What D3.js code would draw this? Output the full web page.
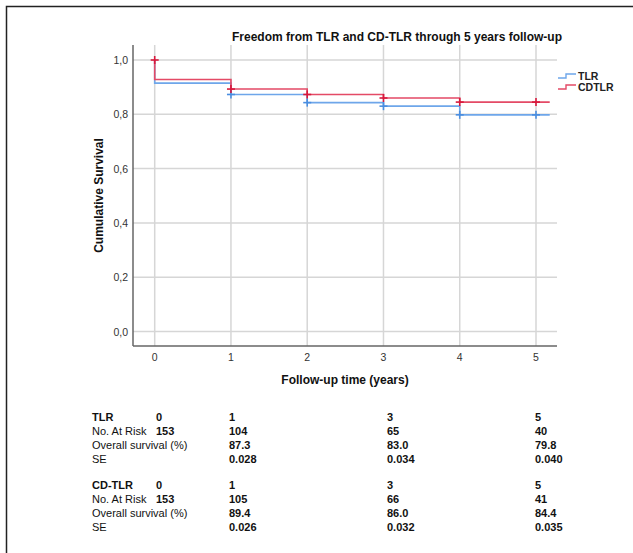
<!DOCTYPE html>
<html>
<head>
<meta charset="utf-8">
<script src="https://cdn.jsdelivr.net/npm/d3@7"></script>
<style>
  body { margin: 0; background: #fff; }
  svg { font-family: "Liberation Sans", Arial, sans-serif; }
</style>
</head>
<body>
<div id="chart"></div>
<script>
// survival steps
const stepTimes = [0, 0, 1, 2, 3, 4];
const tlrSurv = [1.0, 0.915, 0.873, 0.843, 0.830, 0.798];
const cdtlrSurv = [1.0, 0.928, 0.893, 0.873, 0.860, 0.845];
const endTime = 5.18;
const tlrCensor = [1, 2, 3, 4, 5];
const cdtlrCensor = [0, 1, 2, 3, 4, 5];

const xTicks = [0, 1, 2, 3, 4, 5];
const yTicks = [0, 0.2, 0.4, 0.6, 0.8, 1.0];

// risk table
const tableCols = ["0", "1", "3", "5"];
const rowLabels = ["No. At Risk", "Overall survival (%)", "SE"];
const tlrRisk = ["153", "104", "65", "40"];
const tlrOs = ["", "87.3", "83.0", "79.8"];
const tlrSe = ["", "0.028", "0.034", "0.040"];
const cdRisk = ["153", "105", "66", "41"];
const cdOs = ["", "89.4", "86.0", "84.4"];
const cdSe = ["", "0.026", "0.032", "0.035"];

const W = 633, H = 553;
const svg = d3.select("#chart").append("svg")
    .attr("width", W).attr("height", H);

// frame edge (top / left)
svg.append("path")
    .attr("d", `M6.5,${H} V6.5 H${W}`)
    .attr("fill", "none").attr("stroke", "#222").attr("stroke-width", 1.5);

const plot = {left: 133, right: 557, top: 45, bottom: 346};

const x = d3.scaleLinear().domain([0, 5]).range([154.7, 536]);
const y = d3.scaleLinear().domain([0, 1]).range([331.5, 60]);

const g = svg.append("g");

// grid
g.selectAll(".hgrid").data(yTicks).enter().append("line")
    .attr("x1", plot.left).attr("x2", plot.right)
    .attr("y1", d => y(d)).attr("y2", d => y(d))
    .attr("stroke", "#d6d6d6").attr("stroke-width", 1.5);
g.selectAll(".vgrid").data(xTicks).enter().append("line")
    .attr("x1", d => x(d)).attr("x2", d => x(d))
    .attr("y1", plot.top).attr("y2", plot.bottom)
    .attr("stroke", "#d6d6d6").attr("stroke-width", 1.5);

// axes lines
g.append("line").attr("x1", plot.left).attr("x2", plot.left)
    .attr("y1", plot.top).attr("y2", plot.bottom)
    .attr("stroke", "#666").attr("stroke-width", 1.5);
g.append("line").attr("x1", plot.left).attr("x2", plot.right)
    .attr("y1", plot.bottom).attr("y2", plot.bottom)
    .attr("stroke", "#666").attr("stroke-width", 1.5);

// tick labels
g.selectAll(".ytl").data(yTicks).enter().append("text")
    .attr("x", plot.left - 5).attr("y", d => y(d) + 4)
    .attr("text-anchor", "end").attr("font-size", 10.5).attr("fill", "#333")
    .text(d => d3.format(".1f")(d).replace(".", ","));
g.selectAll(".xtl").data(xTicks).enter().append("text")
    .attr("x", d => x(d)).attr("y", plot.bottom + 15)
    .attr("text-anchor", "middle").attr("font-size", 10.5).attr("fill", "#333")
    .text(d => d);

// titles
svg.append("text").attr("x", 397).attr("y", 41).attr("text-anchor", "middle")
    .attr("font-size", 12).attr("font-weight", "bold").attr("fill", "#111")
    .text("Freedom from TLR and CD-TLR through 5 years follow-up");
svg.append("text").attr("x", 345).attr("y", 384).attr("text-anchor", "middle")
    .attr("font-size", 12).attr("font-weight", "bold").attr("fill", "#111")
    .text("Follow-up time (years)");
svg.append("text")
    .attr("transform", `translate(103, ${(plot.top + plot.bottom) / 2}) rotate(-90)`)
    .attr("text-anchor", "middle")
    .attr("font-size", 12).attr("font-weight", "bold").attr("fill", "#111")
    .text("Cumulative Survival");

const line = d3.line().x(d => x(d[0])).y(d => y(d[1])).curve(d3.curveStepAfter);

function curveData(surv) {
    const pts = stepTimes.map((t, i) => [t, surv[i]]);
    pts.push([endTime, surv[surv.length - 1]]);
    return pts;
}

// value at a censor time; at t = 0 the mark sits before the first drop
function survAt(surv, t) {
    let v = surv[0];
    stepTimes.forEach((st, i) => { if (st <= t && t > 0) v = surv[i]; });
    return v;
}

const series = [
    {name: "TLR", surv: tlrSurv, censor: tlrCensor, color: "#6ea6ea", mark: "#4a8ee0"},
    {name: "CDTLR", surv: cdtlrSurv, censor: cdtlrCensor, color: "#e44a66", mark: "#d8183c"}
];

series.forEach(s => {
    g.append("path").datum(curveData(s.surv))
        .attr("d", line).attr("fill", "none")
        .attr("stroke", s.color).attr("stroke-width", 1.6);
    const m = g.selectAll(".m" + s.name).data(s.censor).enter().append("g")
        .attr("transform", d => `translate(${x(d)},${y(survAt(s.surv, d))})`);
    m.append("line").attr("x1", -4).attr("x2", 4)
        .attr("stroke", s.mark).attr("stroke-width", 1.6);
    m.append("line").attr("y1", -4).attr("y2", 4)
        .attr("stroke", s.mark).attr("stroke-width", 1.6);
});

// legend
series.forEach((s, i) => {
    const ly = 76 + i * 11;
    svg.append("path")
        .attr("d", `M558,${ly + 2} H566 V${ly - 2} H576`)
        .attr("fill", "none").attr("stroke", s.color).attr("stroke-width", 1.4);
    svg.append("text").attr("x", 578).attr("y", ly + 4)
        .attr("font-size", 10.5).attr("font-weight", "bold").attr("fill", "#222")
        .text(s.name);
});

// risk table
const colX = [156, 229, 387, 535];
const fs = 11;
function block(title, top, rows) {
    svg.append("text").attr("x", 92).attr("y", top).attr("font-size", fs)
        .attr("font-weight", "bold").attr("fill", "#111").text(title);
    svg.selectAll(null).data(tableCols).enter().append("text")
        .attr("x", (d, i) => colX[i]).attr("y", top)
        .attr("font-size", fs).attr("font-weight", "bold").attr("fill", "#111")
        .text(d => d);
    rowLabels.forEach((lab, r) => {
        const ry = top + 14 * (r + 1);
        svg.append("text").attr("x", 92).attr("y", ry).attr("font-size", fs)
            .attr("fill", "#111").text(lab);
        svg.selectAll(null).data(rows[r]).enter().append("text")
            .attr("x", (d, i) => colX[i]).attr("y", ry)
            .attr("font-size", fs).attr("font-weight", "bold").attr("fill", "#111")
            .text(d => d);
    });
}
block("TLR", 421, [tlrRisk, tlrOs, tlrSe]);
block("CD-TLR", 489, [cdRisk, cdOs, cdSe]);
</script>
</body>
</html>
